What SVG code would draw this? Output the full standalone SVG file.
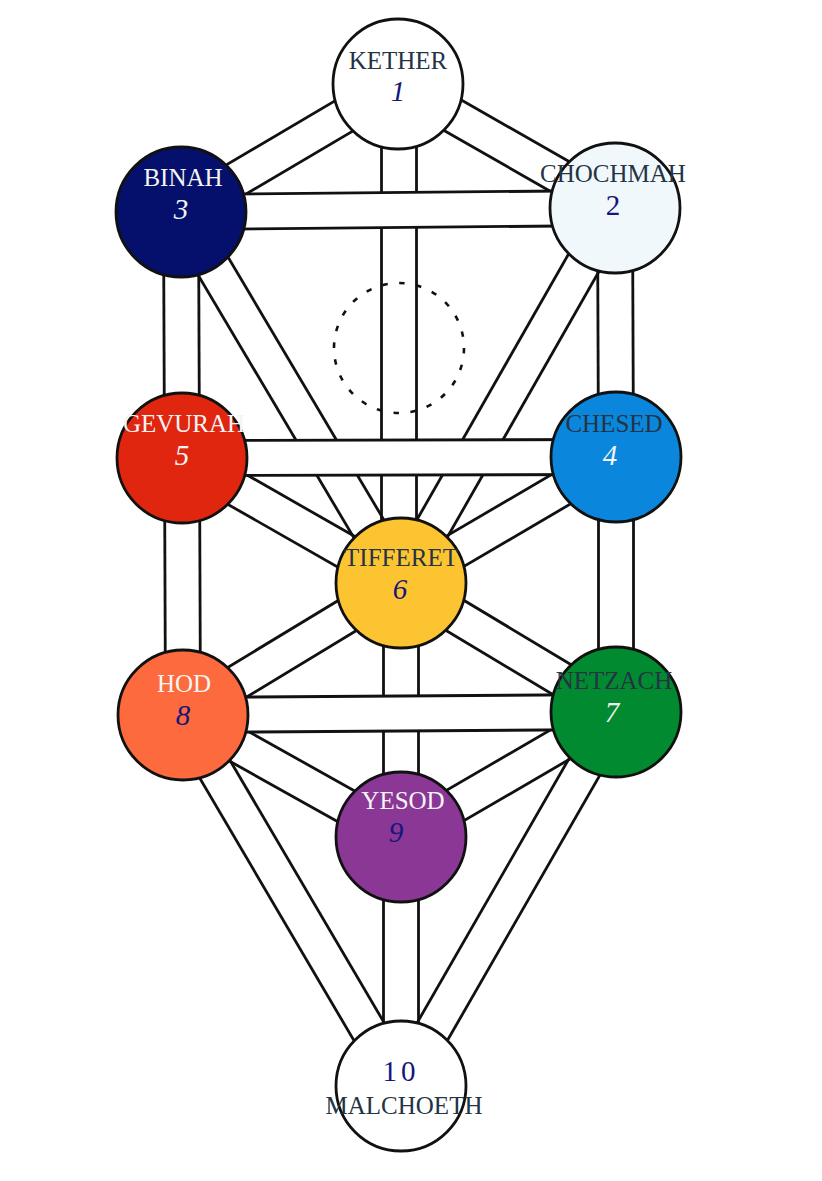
<svg xmlns="http://www.w3.org/2000/svg" width="822" height="1181" viewBox="0 0 822 1181">
<defs>
<style>
.e{stroke:#111;stroke-width:2.8;fill:none}
.bo{stroke:#111;stroke-width:37.8}
.bi{stroke:#fff;stroke-width:32.2}
.s{stroke:#111;stroke-width:2.8}
.lbl{font-family:"Liberation Serif","Times New Roman",serif;font-size:25px;text-anchor:middle}
.num{font-family:"Liberation Serif","Times New Roman",serif;font-size:29px;text-anchor:middle}
.it{font-style:italic}
.dk{fill:#243444}
.wt{fill:#f4f4f4}
.nv{fill:#16167a}
</style>
</defs>
<rect width="822" height="1181" fill="#fff"/>
<g id="connectors">
  <!-- 1-2 -->
  <line class="e" x1="389.3" y1="99.2" x2="606.3" y2="223.2"/>
  <line class="e" x1="406.7" y1="68.8" x2="623.7" y2="192.8"/>
  <!-- 1-3 -->
  <line class="e" x1="389.1" y1="68.9" x2="172.1" y2="196.9"/>
  <line class="e" x1="406.9" y1="99.1" x2="189.9" y2="227.1"/>
  <!-- 1-6 -->
  <line class="e" x1="381.5" y1="84" x2="381.5" y2="583"/>
  <line class="e" x1="416.5" y1="84" x2="416.5" y2="583"/>
  <!-- 2-4 -->
  <line class="e" x1="597.5" y1="208" x2="598.5" y2="457"/>
  <line class="e" x1="632.5" y1="208" x2="633.5" y2="457"/>
  <!-- 2-6 -->
  <line class="e" x1="599.8" y1="199.3" x2="385.8" y2="574.3"/>
  <line class="e" x1="630.2" y1="216.7" x2="416.2" y2="591.7"/>
  <!-- 3-5 -->
  <line class="e" x1="163.5" y1="212" x2="164.5" y2="458"/>
  <line class="e" x1="198.5" y1="212" x2="199.5" y2="458"/>
  <!-- 3-6 -->
  <line class="e" x1="166" y1="220.9" x2="386" y2="591.9"/>
  <line class="e" x1="196" y1="203.1" x2="416" y2="574.1"/>
  <!-- 4-6 -->
  <line class="e" x1="607.2" y1="441.9" x2="392.2" y2="567.9"/>
  <line class="e" x1="624.8" y1="472.1" x2="409.8" y2="598.1"/>
  <!-- 4-7 -->
  <line class="e" x1="598.5" y1="457" x2="598.5" y2="712"/>
  <line class="e" x1="633.5" y1="457" x2="633.5" y2="712"/>
  <!-- 5-6 -->
  <line class="e" x1="173.3" y1="473.2" x2="392.3" y2="598.2"/>
  <line class="e" x1="190.7" y1="442.8" x2="409.7" y2="567.8"/>
  <!-- 5-8 -->
  <line class="e" x1="164.5" y1="458" x2="165.5" y2="715"/>
  <line class="e" x1="199.5" y1="458" x2="200.5" y2="715"/>
  <!-- 6-7 -->
  <line class="e" x1="392" y1="598" x2="607" y2="727"/>
  <line class="e" x1="410" y1="568" x2="625" y2="697"/>
  <!-- 6-8 -->
  <line class="e" x1="391.9" y1="568" x2="173.9" y2="700"/>
  <line class="e" x1="410.1" y1="598" x2="192.1" y2="730"/>
  <!-- 6-9 -->
  <line class="e" x1="383.5" y1="583" x2="383.5" y2="837"/>
  <line class="e" x1="418.5" y1="583" x2="418.5" y2="837"/>
  <!-- 7-9 -->
  <line class="e" x1="607.2" y1="696.9" x2="392.2" y2="821.9"/>
  <line class="e" x1="624.8" y1="727.1" x2="409.8" y2="852.1"/>
  <!-- 8-9 -->
  <line class="e" x1="174.5" y1="730.3" x2="392.5" y2="852.3"/>
  <line class="e" x1="191.6" y1="699.7" x2="409.6" y2="821.7"/>
  <!-- 8-10 -->
  <line class="e" x1="167.9" y1="723.9" x2="385.9" y2="1094.9"/>
  <line class="e" x1="198.1" y1="706.1" x2="416.1" y2="1077.1"/>
  <!-- 7-10 -->
  <line class="e" x1="600.8" y1="703.3" x2="385.8" y2="1077.3"/>
  <line class="e" x1="631.2" y1="720.7" x2="416.2" y2="1094.7"/>
  <!-- 9-10 -->
  <line class="e" x1="383.5" y1="837" x2="383.5" y2="1086"/>
  <line class="e" x1="418.5" y1="837" x2="418.5" y2="1086"/>
  <!-- horizontal bands on top -->
  <line class="bo" x1="181" y1="212" x2="615" y2="208"/>
  <line class="bi" x1="181" y1="212" x2="615" y2="208"/>
  <line class="bo" x1="182" y1="458" x2="616" y2="457"/>
  <line class="bi" x1="182" y1="458" x2="616" y2="457"/>
  <line class="bo" x1="183" y1="715" x2="616" y2="712"/>
  <line class="bi" x1="183" y1="715" x2="616" y2="712"/>
</g>
<g id="daath">
  <circle cx="399" cy="348" r="65" fill="none" stroke="#111" stroke-width="2.6" stroke-dasharray="5.5 11.5"/>
</g>
<g id="kether">
  <circle class="s" cx="398" cy="84" r="65" fill="#fff"/>
  <text class="lbl dk" x="398" y="69">KETHER</text>
  <text class="num it nv" x="398" y="101">1</text>
</g>
<g id="chochmah">
  <circle class="s" cx="615" cy="208" r="65" fill="#f1f8fc"/>
  <text class="lbl dk" x="613" y="182">CHOCHMAH</text>
  <text class="num nv" x="613" y="215">2</text>
</g>
<g id="binah">
  <circle class="s" cx="181" cy="212" r="65" fill="#04106b"/>
  <text class="lbl wt" x="183" y="186">BINAH</text>
  <text class="num it wt" x="181" y="219">3</text>
</g>
<g id="chesed">
  <circle class="s" cx="616" cy="457" r="65" fill="#0a87dc"/>
  <text class="lbl dk" x="614" y="432">CHESED</text>
  <text class="num it wt" x="610" y="465">4</text>
</g>
<g id="gevurah">
  <circle class="s" cx="182" cy="458" r="65" fill="#e1260f"/>
  <text class="lbl wt" x="184" y="432">GEVURAH</text>
  <text class="num it wt" x="182" y="465">5</text>
</g>
<g id="tifferet">
  <circle class="s" cx="401" cy="583" r="65" fill="#fdc432"/>
  <text class="lbl dk" x="401" y="566">TIFFERET</text>
  <text class="num it nv" x="400" y="599">6</text>
</g>
<g id="netzach">
  <circle class="s" cx="616" cy="712" r="65" fill="#028a30"/>
  <text class="lbl dk" x="614" y="689">NETZACH</text>
  <text class="num it wt" x="612" y="722">7</text>
</g>
<g id="hod">
  <circle class="s" cx="183" cy="715" r="65" fill="#fd6a3d"/>
  <text class="lbl wt" x="184" y="692">HOD</text>
  <text class="num it nv" x="183" y="725">8</text>
</g>
<g id="yesod">
  <circle class="s" cx="401" cy="837" r="65" fill="#8a3796"/>
  <text class="lbl wt" x="403" y="809">YESOD</text>
  <text class="num it nv" x="396" y="842">9</text>
</g>
<g id="malchoeth">
  <circle class="s" cx="401" cy="1086" r="65" fill="#fff"/>
  <text class="num nv" x="401" y="1081" letter-spacing="4">10</text>
  <text class="lbl dk" x="404" y="1114">MALCHOETH</text>
</g>
</svg>
